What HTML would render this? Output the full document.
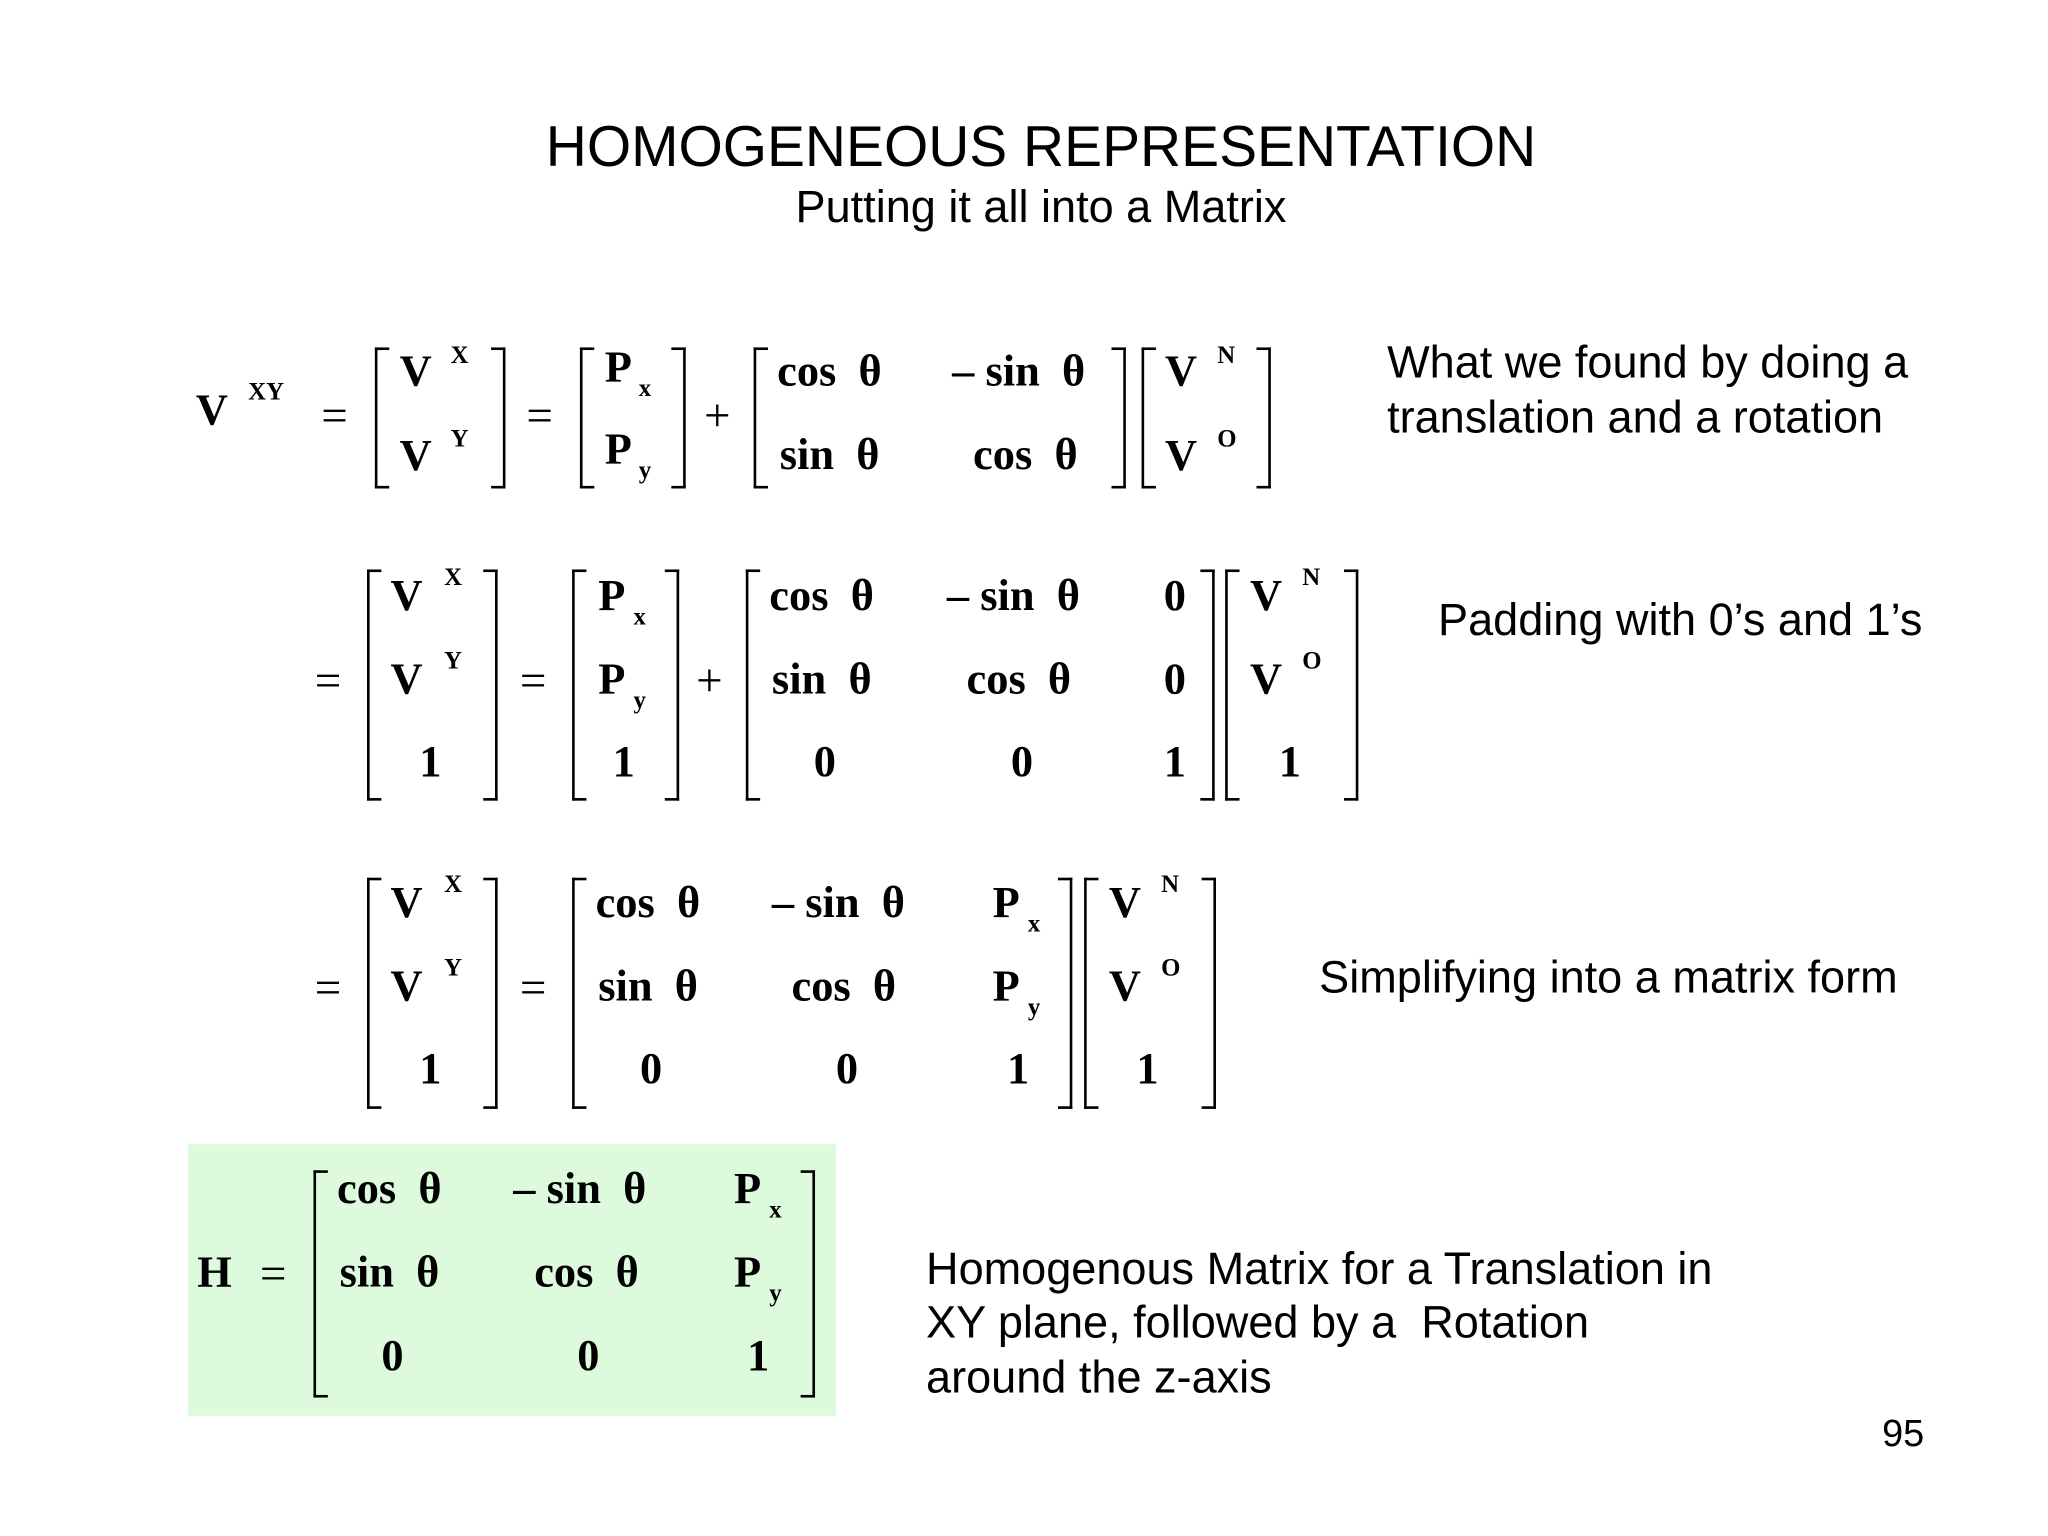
<!DOCTYPE html>
<html><head><meta charset="utf-8"><style>
html,body{margin:0;padding:0;background:#fff}
#wrap{position:relative;width:2048px;height:1536px;overflow:hidden;background:#fff}
#s{position:absolute;left:0;top:0;width:1568px;height:1176px;transform:scale(1.30612);transform-origin:0 0}
.m{position:absolute;font-family:"Liberation Serif",serif;font-weight:bold;font-size:34px;margin-top:-2px;line-height:1;white-space:pre;color:#000}
.sp{position:absolute;font-family:"Liberation Serif",serif;font-weight:bold;font-size:19px;margin-top:-1px;line-height:1;color:#000}
.op{position:absolute;font-family:"Liberation Serif",serif;font-size:36px;margin-top:-3px;line-height:1;color:#000}
.lb,.rb{position:absolute;width:9px;border-top:2px solid #000;border-bottom:2px solid #000}
.lb{border-left:2px solid #000}
.rb{border-right:2px solid #000}
.tx{position:absolute;font-family:"Liberation Sans",sans-serif;font-size:34.5px;margin-top:-1px;line-height:1;white-space:nowrap;color:#000}
</style></head><body><div id="wrap"><div id="s">
<div class="tx" style="left:797px;top:92px;font-size:44px;transform:translateX(-50%) scaleX(0.99);">HOMOGENEOUS REPRESENTATION</div>
<div class="tx" style="left:797px;top:143px;font-size:34.5px;transform:translateX(-50%);">Putting it all into a Matrix</div>

<!-- Equation 1 -->
<div class="m" style="left:150px;top:300px">V</div><div class="sp" style="left:190px;top:292px">XY</div>
<div class="op" style="left:246px;top:303px">=</div>
<div class="lb" style="left:287px;top:266px;height:104px"></div><div class="rb" style="left:376px;top:266px;height:104px"></div>
<div class="m" style="left:306px;top:270px">V</div><div class="sp" style="left:345px;top:264px">X</div>
<div class="m" style="left:306px;top:335px">V</div><div class="sp" style="left:345px;top:328px">Y</div>
<div class="op" style="left:403px;top:303px">=</div>
<div class="lb" style="left:444px;top:266px;height:104px"></div><div class="rb" style="left:514px;top:266px;height:104px"></div>
<div class="m" style="left:463px;top:267px">P</div><div class="sp" style="left:489px;top:289px">x</div>
<div class="m" style="left:463px;top:330px">P</div><div class="sp" style="left:489px;top:352px">y</div>
<div class="op" style="left:539px;top:303px">+</div>
<div class="lb" style="left:577px;top:266px;height:104px"></div><div class="rb" style="left:851px;top:266px;height:104px"></div>
<div class="m" style="left:595px;top:270px">cos  θ</div><div class="m" style="left:729px;top:270px">– sin  θ</div>
<div class="m" style="left:597px;top:334px">sin  θ</div><div class="m" style="left:745px;top:334px">cos  θ</div>
<div class="lb" style="left:874px;top:266px;height:104px"></div><div class="rb" style="left:962px;top:266px;height:104px"></div>
<div class="m" style="left:892px;top:270px">V</div><div class="sp" style="left:932px;top:264px">N</div>
<div class="m" style="left:892px;top:335px">V</div><div class="sp" style="left:932px;top:328px">O</div>
<div class="tx" style="left:1062px;top:262px">What we found by doing a</div>
<div class="tx" style="left:1062px;top:304px">translation and a rotation</div>

<!-- Equation 2 -->
<div class="op" style="left:241px;top:506px">=</div>
<div class="lb" style="left:281px;top:436px;height:173px"></div><div class="rb" style="left:370px;top:436px;height:173px"></div>
<div class="m" style="left:299px;top:442px">V</div><div class="sp" style="left:340px;top:434px">X</div>
<div class="m" style="left:299px;top:506px">V</div><div class="sp" style="left:340px;top:498px">Y</div>
<div class="m" style="left:321px;top:569px">1</div>
<div class="op" style="left:398px;top:506px">=</div>
<div class="lb" style="left:438px;top:436px;height:173px"></div><div class="rb" style="left:509px;top:436px;height:173px"></div>
<div class="m" style="left:458px;top:442px">P</div><div class="sp" style="left:485px;top:464px">x</div>
<div class="m" style="left:458px;top:506px">P</div><div class="sp" style="left:485px;top:528px">y</div>
<div class="m" style="left:469px;top:569px">1</div>
<div class="op" style="left:533px;top:506px">+</div>
<div class="lb" style="left:571px;top:436px;height:173px"></div><div class="rb" style="left:919px;top:436px;height:173px"></div>
<div class="m" style="left:589px;top:442px">cos  θ</div><div class="m" style="left:725px;top:442px">– sin  θ</div><div class="m" style="left:891px;top:442px">0</div>
<div class="m" style="left:591px;top:506px">sin  θ</div><div class="m" style="left:740px;top:506px">cos  θ</div><div class="m" style="left:891px;top:506px">0</div>
<div class="m" style="left:623px;top:569px">0</div><div class="m" style="left:774px;top:569px">0</div><div class="m" style="left:891px;top:569px">1</div>
<div class="lb" style="left:938px;top:436px;height:173px"></div><div class="rb" style="left:1029px;top:436px;height:173px"></div>
<div class="m" style="left:957px;top:442px">V</div><div class="sp" style="left:997px;top:434px">N</div>
<div class="m" style="left:957px;top:506px">V</div><div class="sp" style="left:997px;top:498px">O</div>
<div class="m" style="left:979px;top:569px">1</div>
<div class="tx" style="left:1101px;top:459px">Padding with 0’s and 1’s</div>

<!-- Equation 3 -->
<div class="op" style="left:241px;top:741px">=</div>
<div class="lb" style="left:281px;top:672px;height:173px"></div><div class="rb" style="left:370px;top:672px;height:173px"></div>
<div class="m" style="left:299px;top:677px">V</div><div class="sp" style="left:340px;top:669px">X</div>
<div class="m" style="left:299px;top:741px">V</div><div class="sp" style="left:340px;top:733px">Y</div>
<div class="m" style="left:321px;top:804px">1</div>
<div class="op" style="left:398px;top:741px">=</div>
<div class="lb" style="left:438px;top:672px;height:173px"></div><div class="rb" style="left:810px;top:672px;height:173px"></div>
<div class="m" style="left:456px;top:677px">cos  θ</div><div class="m" style="left:591px;top:677px">– sin  θ</div>
<div class="m" style="left:760px;top:677px">P</div><div class="sp" style="left:787px;top:699px">x</div>
<div class="m" style="left:458px;top:741px">sin  θ</div><div class="m" style="left:606px;top:741px">cos  θ</div>
<div class="m" style="left:760px;top:741px">P</div><div class="sp" style="left:787px;top:763px">y</div>
<div class="m" style="left:490px;top:804px">0</div><div class="m" style="left:640px;top:804px">0</div><div class="m" style="left:771px;top:804px">1</div>
<div class="lb" style="left:830px;top:672px;height:173px"></div><div class="rb" style="left:920px;top:672px;height:173px"></div>
<div class="m" style="left:849px;top:677px">V</div><div class="sp" style="left:889px;top:669px">N</div>
<div class="m" style="left:849px;top:741px">V</div><div class="sp" style="left:889px;top:733px">O</div>
<div class="m" style="left:870px;top:804px">1</div>
<div class="tx" style="left:1010px;top:733px">Simplifying into a matrix form</div>

<!-- H -->
<div style="position:absolute;left:144px;top:876px;width:496px;height:208px;background:#ddfadd"></div>
<div class="m" style="left:151px;top:960px">H</div>
<div class="op" style="left:199px;top:960px">=</div>
<div class="lb" style="left:240px;top:896px;height:170px"></div><div class="rb" style="left:613px;top:896px;height:170px"></div>
<div class="m" style="left:258px;top:896px">cos  θ</div><div class="m" style="left:393px;top:896px">– sin  θ</div>
<div class="m" style="left:562px;top:896px">P</div><div class="sp" style="left:589px;top:918px">x</div>
<div class="m" style="left:260px;top:960px">sin  θ</div><div class="m" style="left:409px;top:960px">cos  θ</div>
<div class="m" style="left:562px;top:960px">P</div><div class="sp" style="left:589px;top:982px">y</div>
<div class="m" style="left:292px;top:1024px">0</div><div class="m" style="left:442px;top:1024px">0</div><div class="m" style="left:572px;top:1024px">1</div>
<div class="tx" style="left:709px;top:956px">Homogenous Matrix for a Translation in</div>
<div class="tx" style="left:709px;top:997px">XY plane, followed by a&nbsp; Rotation</div>
<div class="tx" style="left:709px;top:1039px">around the z-axis</div>
<div class="tx" style="left:1441px;top:1085px;font-size:29px">95</div>
</div></div></body></html>
